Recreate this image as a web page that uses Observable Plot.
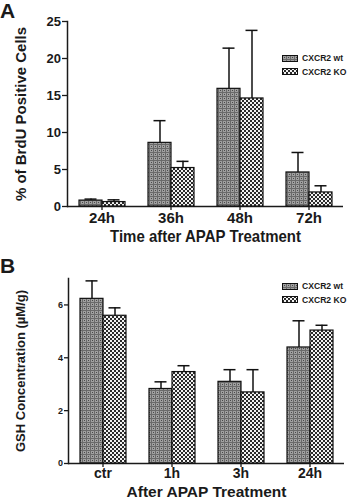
<!DOCTYPE html>
<html>
<head>
<meta charset="utf-8">
<script src="https://cdn.jsdelivr.net/npm/d3@7"></script>
<script src="https://cdn.jsdelivr.net/npm/@observablehq/plot@0.6"></script>
<style>
  html, body { margin: 0; padding: 0; background: #fff; }
  #wrap { position: relative; width: 349px; height: 500px; overflow: hidden; font-family: "Liberation Sans", Arial, sans-serif; font-weight: bold; color: #1a1a1a; }
  .panel { position: absolute; left: 0; }
  .letter { position: absolute; left: 0; font-size: 21px; line-height: 1; font-weight: bold; }
  .legend { position: absolute; left: 282px; font-size: 8.6px; line-height: 1; }
  .legend .row { display: flex; align-items: center; height: 7px; margin-bottom: 6.3px; }
  .legend svg { display: block; margin-right: 4px; }
  g[aria-label="y-axis label"] { font-size: 15px; }
  g[aria-label="fx-axis label"] { font-size: 15px; }
  #panelB g[aria-label="y-axis label"] { font-size: 13px; }
  #panelB g[aria-label="fx-axis label"] { font-size: 15.5px; }
</style>
</head>
<body>
<svg width="0" height="0" style="position:absolute">
  <defs>
    <pattern id="patWt" width="4" height="4" patternUnits="userSpaceOnUse">
      <rect width="4" height="4" fill="#a0a0a0"/>
      <rect width="4" height="1" fill="#6a6a6a"/>
      <rect width="1" height="4" fill="#6a6a6a"/>
      <rect x="2" y="2" width="1" height="1" fill="#4a4a4a"/>
    </pattern>
    <pattern id="patKo" width="4" height="4" patternUnits="userSpaceOnUse">
      <rect width="4" height="4" fill="#f2f2f2"/>
      <rect width="2" height="2" fill="#2a2a2a"/>
      <rect x="2" y="2" width="2" height="2" fill="#2a2a2a"/>
    </pattern>
  </defs>
</svg>
<div id="wrap">
  <div id="panelA" class="panel" style="top:0"></div>
  <div id="panelB" class="panel" style="top:250px"></div>
  <div class="letter" style="top:0px">A</div>
  <div class="letter" style="top:255px">B</div>
  <div class="legend" id="legA" style="top:55px"></div>
  <div class="legend" id="legB" style="top:283px"></div>
</div>
<script>
// ---- data ----
const series = ["CXCR2 wt", "CXCR2 KO"];

const groupsA = ["24h", "36h", "48h", "72h"];
const wtA = [0.8, 8.6, 15.9, 4.6];
const wtErrA = [0.2, 3.0, 5.5, 2.7];
const koA = [0.6, 5.2, 14.6, 1.9];
const koErrA = [0.3, 0.9, 9.2, 0.9];
const yTicksA = [0, 5, 10, 15, 20, 25];

const groupsB = ["ctr", "1h", "3h", "24h"];
const wtB = [6.23, 2.82, 3.09, 4.39];
const wtErrB = [0.68, 0.27, 0.46, 1.01];
const koB = [5.59, 3.46, 2.69, 5.03];
const koErrB = [0.30, 0.24, 0.86, 0.20];
const yTicksB = [0, 2, 4, 6];

function panel(cfg) {
  const data = cfg.groups.flatMap((g, i) => [
    {g, s: series[0], v: cfg.wt[i], e: cfg.wtErr[i]},
    {g, s: series[1], v: cfg.ko[i], e: cfg.koErr[i]}
  ]);
  const svg = Plot.plot({
    width: 349,
    height: 250,
    marginLeft: cfg.marginLeft,
    marginRight: cfg.marginRight,
    marginTop: cfg.marginTop,
    marginBottom: cfg.marginBottom,
    style: {fontFamily: "'Liberation Sans', Arial, sans-serif", fontWeight: "bold", color: "#1a1a1a", background: "transparent", overflow: "visible"},
    fx: {domain: cfg.groups, paddingInner: 0, paddingOuter: 0},
    x: {domain: series, paddingInner: 0, paddingOuter: 0.47, axis: null},
    y: {domain: cfg.yDomain, axis: null},
    color: {domain: series, range: ["url(#patWt)", "url(#patKo)"]},
    marks: [
      Plot.frame({anchor: "left", facetAnchor: "left", stroke: "#1a1a1a", strokeWidth: 1.5}),
      Plot.ruleY([0], {stroke: "#1a1a1a", strokeWidth: 1.5}),
      Plot.barY(data, {fx: "g", x: "s", y: "v", fill: "s", stroke: "#111", strokeWidth: 1.2}),
      Plot.ruleX(data, {fx: "g", x: "s", y1: "v", y2: d => d.v + d.e, stroke: "#111", strokeWidth: 1.5}),
      Plot.tickY(data, {fx: "g", x: "s", y: d => d.v + d.e, insetLeft: 5.5, insetRight: 5.5, stroke: "#111", strokeWidth: 1.5}),
      Plot.axisY({ticks: cfg.yTicks, tickFormat: d3.format("d"), tickSize: cfg.tickSizeY, tickPadding: 1.5, fontSize: cfg.yTickFont, label: cfg.ylabel, labelArrow: "none", labelAnchor: "center", labelOffset: cfg.yLabelOffset, stroke: "#1a1a1a", strokeWidth: 1.3}),
      Plot.axisFx({anchor: "bottom", tickSize: 4, tickPadding: cfg.xTickPadding, fontSize: cfg.xTickFont, label: cfg.xlabel, labelArrow: "none", labelAnchor: "center", labelOffset: cfg.xLabelOffset, stroke: "#1a1a1a", strokeWidth: 1.3})
    ]
  });
  // stretch the x-axis title vertically, as in the original figure
  if (cfg.xLabelStretch !== 1) {
    d3.select(svg).selectAll('g[aria-label="fx-axis label"] text').each(function () {
      const t = this.getAttribute("transform") || "";
      this.setAttribute("transform", t + ` scale(1,${cfg.xLabelStretch})`);
    });
  }
  return svg;
}

const A = panel({
  groups: groupsA, wt: wtA, wtErr: wtErrA, ko: koA, koErr: koErrA,
  yDomain: [0, 25], yTicks: yTicksA,
  marginLeft: 67, marginRight: 6, marginTop: 21, marginBottom: 44,
  tickSizeY: 5, yTickFont: 13, xTickFont: 15, xTickPadding: 2,
  ylabel: "% of BrdU Positive Cells", yLabelOffset: 52,
  xlabel: "Time after APAP Treatment", xLabelOffset: 35, xLabelStretch: 1.1
});
document.getElementById("panelA").append(A);

const B = panel({
  groups: groupsB, wt: wtB, wtErr: wtErrB, ko: koB, koErr: koErrB,
  yDomain: [0, 7], yTicks: yTicksB,
  marginLeft: 66, marginRight: 4, marginTop: 28, marginBottom: 37,
  tickSizeY: 4, yTickFont: 9, xTickFont: 14, xTickPadding: 1,
  ylabel: "GSH Concentration (µM/g)", yLabelOffset: 53,
  xlabel: "After APAP Treatment", xLabelOffset: 33, xLabelStretch: 1
});
document.getElementById("panelB").append(B);

function legend(id) {
  const el = document.getElementById(id);
  series.forEach((s, i) => {
    const row = document.createElement("div");
    row.className = "row";
    row.innerHTML = `<svg width="16" height="7"><rect x="0.5" y="0.5" width="15" height="6" fill="url(#${i === 0 ? "patWt" : "patKo"})" stroke="#111" stroke-width="1"/></svg><span>${s}</span>`;
    el.append(row);
  });
}
legend("legA");
legend("legB");
</script>
</body>
</html>
